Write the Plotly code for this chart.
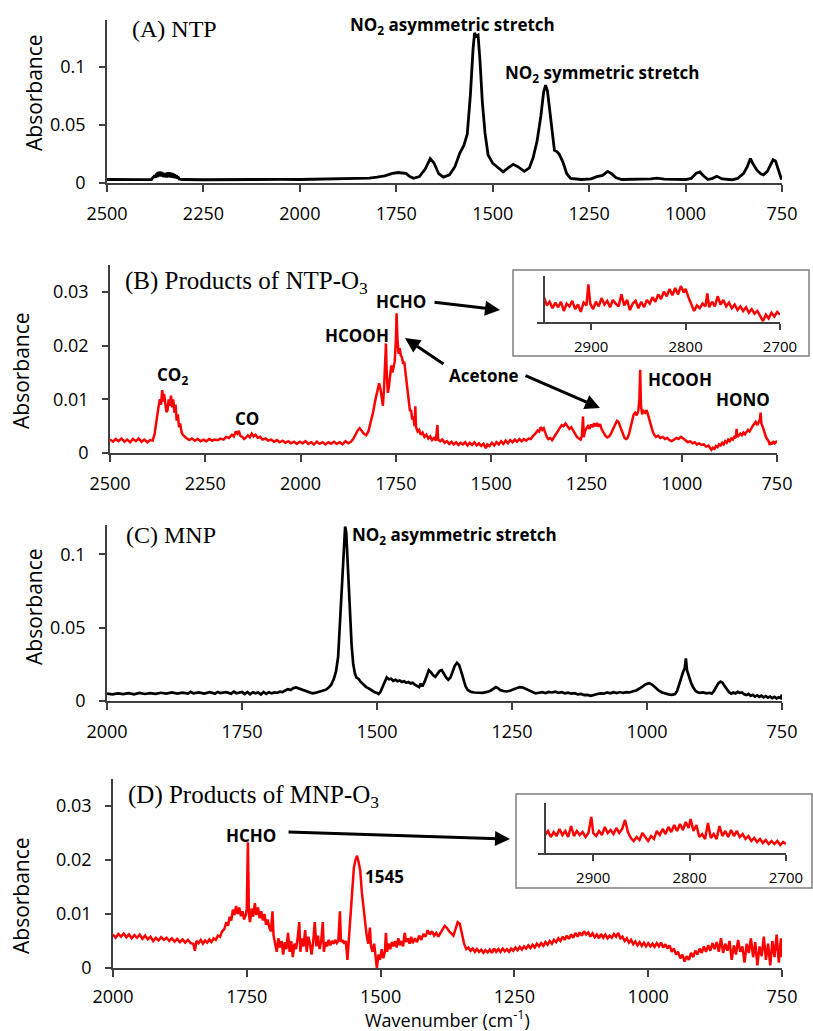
import plotly.graph_objects as go

W, H = 813, 1031

# ---------------- data (wavenumber cm-1, absorbance) ----------------
NTP_SPECTRUM = [
    (2500, .0030), (2470, .0028), (2440, .0030), (2410, .0029), (2385, .0030), (2380, .0045),
    (2376, .0065), (2374, .0045), (2372, .0082), (2370, .0050), (2368, .0095), (2366, .0055),
    (2364, .0098), (2362, .0058), (2360, .0096), (2358, .0055), (2356, .0090), (2354, .0052),
    (2352, .0072), (2350, .0050), (2348, .0085), (2346, .0048), (2344, .0090), (2342, .0050),
    (2340, .0092), (2338, .0050), (2336, .0090), (2334, .0048), (2332, .0086), (2330, .0045),
    (2328, .0082), (2326, .0042), (2324, .0074), (2322, .0040), (2320, .0065), (2318, .0036),
    (2316, .0055), (2313, .0034), (2305, .0030), (2250, .0028), (2200, .0030), (2150, .0029),
    (2100, .0030), (2050, .0031), (2000, .0030), (1950, .0033), (1900, .0034), (1850, .0038),
    (1820, .0042), (1800, .0050), (1780, .0062), (1760, .0082), (1745, .0090), (1735, .0086),
    (1725, .0082), (1715, .0055), (1705, .0040), (1690, .0055), (1675, .0120), (1662, .0210),
    (1652, .0170), (1640, .0080), (1628, .0050), (1612, .0070), (1598, .0140), (1585, .0260),
    (1575, .0320), (1566, .0420), (1558, .0750), (1551, .1150), (1547, .1290), (1543, .1260),
    (1538, .1270), (1533, .1050), (1527, .0700), (1520, .0430), (1512, .0240), (1500, .0170),
    (1489, .0140), (1473, .0095), (1460, .0130), (1447, .0160), (1435, .0140), (1418, .0100),
    (1405, .0130), (1395, .0220), (1385, .0360), (1375, .0580), (1368, .0780), (1363, .0840),
    (1358, .0790), (1352, .0620), (1346, .0400), (1340, .0280), (1334, .0270), (1328, .0250),
    (1318, .0180), (1308, .0080), (1298, .0040), (1270, .0030), (1245, .0035), (1230, .0055),
    (1215, .0065), (1202, .0100), (1192, .0080), (1180, .0045), (1165, .0030), (1120, .0030),
    (1090, .0035), (1074, .0042), (1055, .0033), (1000, .0030), (985, .0040), (972, .0085),
    (963, .0095), (953, .0060), (942, .0030), (930, .0040), (919, .0058), (905, .0035),
    (880, .0028), (865, .0040), (850, .0080), (840, .0140), (832, .0210), (826, .0170),
    (815, .0110), (805, .0080), (798, .0070), (788, .0100), (780, .0160), (773, .0200),
    (767, .0190), (762, .0140), (757, .0080), (751, .0030),
]

NTP_O3_SPECTRUM = [
    (2500, .0025), (2492, .0021), (2485, .0026), (2478, .0022), (2470, .0027), (2462, .0021),
    (2455, .0025), (2447, .0020), (2440, .0026), (2432, .0022), (2425, .0027), (2417, .0021),
    (2410, .0025), (2402, .0020), (2395, .0024), (2388, .0023), (2383, .0035), (2378, .0065),
    (2373, .0085), (2369, .0100), (2366, .0090), (2363, .0117), (2360, .0095), (2358, .0110),
    (2355, .0085), (2352, .0076), (2349, .0080), (2346, .0100), (2343, .0088), (2340, .0107),
    (2337, .0085), (2334, .0100), (2331, .0075), (2328, .0090), (2325, .0060), (2322, .0072),
    (2319, .0048), (2316, .0055), (2312, .0038), (2308, .0033), (2300, .0028), (2292, .0024),
    (2285, .0027), (2277, .0023), (2270, .0026), (2262, .0022), (2255, .0025), (2247, .0022),
    (2240, .0026), (2232, .0023), (2225, .0025), (2217, .0024), (2210, .0027), (2202, .0025),
    (2195, .0030), (2188, .0028), (2180, .0034), (2175, .0031), (2170, .0040), (2166, .0036),
    (2162, .0041), (2158, .0032), (2153, .0030), (2148, .0026), (2143, .0029), (2138, .0033),
    (2133, .0029), (2128, .0036), (2123, .0031), (2118, .0034), (2112, .0028), (2106, .0030),
    (2100, .0025), (2092, .0027), (2085, .0023), (2077, .0025), (2070, .0021), (2062, .0024),
    (2055, .0020), (2047, .0023), (2040, .0019), (2032, .0022), (2025, .0018), (2017, .0021),
    (2010, .0017), (2002, .0021), (1995, .0018), (1987, .0022), (1980, .0017), (1972, .0020),
    (1965, .0016), (1957, .0021), (1950, .0017), (1942, .0020), (1935, .0016), (1927, .0020),
    (1920, .0017), (1912, .0021), (1905, .0017), (1897, .0020), (1890, .0016), (1882, .0022),
    (1875, .0018), (1868, .0021), (1862, .0026), (1856, .0035), (1850, .0042), (1845, .0046),
    (1840, .0041), (1834, .0036), (1828, .0033), (1822, .0040), (1816, .0058), (1810, .0075),
    (1804, .0098), (1798, .0120), (1794, .0130), (1790, .0118), (1787, .0096), (1784, .0088),
    (1781, .0120), (1778, .0165), (1776, .0204), (1774, .0150), (1771, .0112), (1768, .0125),
    (1765, .0148), (1762, .0163), (1759, .0150), (1756, .0158), (1753, .0170), (1750, .0210),
    (1748, .0260), (1746, .0215), (1743, .0185), (1740, .0195), (1737, .0182), (1734, .0178),
    (1731, .0166), (1728, .0170), (1725, .0150), (1722, .0128), (1719, .0120), (1716, .0092),
    (1713, .0078), (1710, .0080), (1707, .0062), (1704, .0068), (1701, .0050), (1699, .0087),
    (1697, .0048), (1693, .0040), (1689, .0043), (1685, .0034), (1680, .0038), (1675, .0030),
    (1670, .0034), (1665, .0027), (1660, .0031), (1655, .0024), (1650, .0028), (1645, .0023),
    (1641, .0052), (1639, .0025), (1634, .0022), (1628, .0025), (1622, .0019), (1616, .0022),
    (1610, .0017), (1604, .0021), (1598, .0016), (1592, .0020), (1586, .0015), (1580, .0019),
    (1574, .0016), (1568, .0020), (1562, .0014), (1556, .0019), (1550, .0015), (1544, .0020),
    (1538, .0014), (1532, .0018), (1526, .0013), (1520, .0017), (1514, .0009), (1510, .0016),
    (1504, .0013), (1498, .0019), (1492, .0014), (1486, .0020), (1480, .0016), (1474, .0022),
    (1468, .0017), (1462, .0023), (1456, .0018), (1450, .0024), (1444, .0020), (1438, .0025),
    (1432, .0021), (1426, .0026), (1420, .0022), (1414, .0026), (1408, .0023), (1402, .0027),
    (1396, .0026), (1390, .0032), (1384, .0036), (1378, .0042), (1374, .0040), (1370, .0048),
    (1366, .0043), (1362, .0046), (1358, .0036), (1354, .0030), (1350, .0026), (1345, .0028),
    (1340, .0024), (1335, .0030), (1330, .0035), (1325, .0042), (1320, .0048), (1315, .0052),
    (1310, .0050), (1305, .0055), (1300, .0050), (1295, .0045), (1290, .0048), (1285, .0042),
    (1280, .0035), (1275, .0030), (1270, .0027), (1265, .0025), (1262, .0032), (1259, .0068),
    (1257, .0030), (1254, .0040), (1250, .0046), (1246, .0050), (1242, .0045), (1238, .0053),
    (1234, .0048), (1230, .0055), (1226, .0050), (1222, .0056), (1218, .0049), (1214, .0054),
    (1210, .0044), (1205, .0038), (1200, .0032), (1195, .0029), (1190, .0031), (1185, .0037),
    (1180, .0045), (1175, .0055), (1170, .0060), (1166, .0058), (1162, .0050), (1158, .0040),
    (1154, .0032), (1150, .0028), (1146, .0026), (1142, .0028), (1138, .0036), (1134, .0050),
    (1130, .0065), (1126, .0072), (1122, .0075), (1118, .0070), (1114, .0078), (1111, .0100),
    (1109, .0155), (1107, .0090), (1104, .0072), (1100, .0078), (1096, .0075), (1092, .0080),
    (1088, .0070), (1084, .0058), (1080, .0048), (1076, .0040), (1072, .0034), (1068, .0030),
    (1062, .0032), (1056, .0028), (1050, .0030), (1044, .0026), (1038, .0028), (1032, .0024),
    (1026, .0022), (1020, .0025), (1014, .0028), (1008, .0026), (1002, .0030), (996, .0027),
    (990, .0024), (984, .0020), (978, .0022), (972, .0018), (966, .0020), (960, .0016),
    (954, .0018), (948, .0015), (942, .0016), (936, .0012), (930, .0014), (926, .0010),
    (922, .0006), (918, .0010), (914, .0008), (910, .0013), (906, .0011), (902, .0016),
    (898, .0014), (894, .0019), (890, .0016), (886, .0022), (882, .0019), (878, .0025),
    (874, .0022), (870, .0027), (866, .0025), (862, .0030), (858, .0028), (856, .0045),
    (854, .0030), (850, .0033), (846, .0036), (842, .0033), (838, .0038), (834, .0035),
    (830, .0040), (826, .0043), (822, .0040), (818, .0046), (814, .0050), (810, .0054),
    (806, .0058), (802, .0052), (798, .0060), (795, .0062), (793, .0075), (791, .0055),
    (788, .0050), (785, .0042), (782, .0035), (779, .0030), (776, .0026), (772, .0022),
    (769, .0015), (766, .0020), (763, .0016), (760, .0022), (756, .0018), (752, .0021),
    (750, .0020),
]

NTP_O3_INSET = [
    (2950, .0027), (2947, .0018), (2944, .0022), (2941, .0015), (2938, .0021), (2935, .0016),
    (2932, .0022), (2929, .0012), (2926, .0020), (2923, .0017), (2920, .0023), (2917, .0014),
    (2914, .0019), (2911, .0011), (2908, .0021), (2905, .0018), (2903, .0041), (2901, .0020),
    (2898, .0014), (2895, .0022), (2892, .0017), (2889, .0026), (2886, .0019), (2883, .0023),
    (2880, .0016), (2877, .0024), (2874, .0020), (2871, .0017), (2868, .0030), (2865, .0018),
    (2862, .0024), (2859, .0013), (2856, .0020), (2853, .0023), (2850, .0015), (2847, .0022),
    (2844, .0016), (2841, .0024), (2838, .0020), (2835, .0027), (2832, .0022), (2829, .0030),
    (2826, .0025), (2823, .0033), (2820, .0028), (2817, .0036), (2814, .0029), (2811, .0037),
    (2808, .0030), (2805, .0039), (2802, .0032), (2800, .0036), (2797, .0027), (2794, .0020),
    (2791, .0012), (2788, .0018), (2785, .0015), (2782, .0020), (2779, .0017), (2777, .0031),
    (2775, .0016), (2772, .0022), (2769, .0017), (2766, .0028), (2763, .0019), (2760, .0024),
    (2757, .0017), (2754, .0021), (2751, .0015), (2748, .0019), (2745, .0013), (2742, .0017),
    (2739, .0012), (2736, .0016), (2733, .0010), (2730, .0014), (2727, .0009), (2724, .0012),
    (2721, .0007), (2718, .0001), (2715, .0008), (2712, .0004), (2709, .0010), (2706, .0006),
    (2703, .0011), (2700, .0008),
]

MNP_SPECTRUM = [
    (2000, .0050), (1990, .0045), (1980, .0052), (1970, .0047), (1960, .0053), (1950, .0046),
    (1940, .0055), (1930, .0048), (1920, .0054), (1910, .0049), (1900, .0056), (1890, .0050),
    (1880, .0058), (1870, .0051), (1860, .0057), (1850, .0050), (1845, .0062), (1840, .0052),
    (1830, .0058), (1820, .0051), (1810, .0060), (1800, .0050), (1795, .0062), (1790, .0054),
    (1780, .0060), (1770, .0050), (1765, .0064), (1760, .0053), (1750, .0061), (1745, .0048),
    (1740, .0062), (1735, .0046), (1730, .0060), (1725, .0052), (1720, .0058), (1715, .0045),
    (1710, .0062), (1705, .0048), (1700, .0060), (1695, .0052), (1690, .0058), (1685, .0055),
    (1680, .0063), (1675, .0060), (1670, .0072), (1665, .0080), (1660, .0075), (1655, .0088),
    (1650, .0092), (1645, .0085), (1640, .0078), (1635, .0070), (1630, .0065), (1625, .0058),
    (1620, .0052), (1615, .0055), (1610, .0060), (1605, .0062), (1600, .0068), (1595, .0076),
    (1590, .0090), (1585, .0110), (1580, .0150), (1576, .0200), (1572, .0300), (1569, .0520),
    (1566, .0700), (1563, .0900), (1561, .1080), (1559, .1190), (1557, .1150), (1555, .0980),
    (1553, .0780), (1550, .0560), (1547, .0380), (1544, .0250), (1541, .0190), (1538, .0160),
    (1534, .0150), (1530, .0130), (1525, .0110), (1520, .0095), (1515, .0085), (1510, .0072),
    (1505, .0062), (1500, .0055), (1497, .0048), (1494, .0060), (1490, .0090), (1486, .0130),
    (1482, .0160), (1478, .0148), (1474, .0152), (1470, .0138), (1466, .0145), (1462, .0135),
    (1458, .0140), (1454, .0130), (1450, .0135), (1446, .0125), (1442, .0130), (1438, .0120),
    (1434, .0125), (1430, .0112), (1426, .0105), (1422, .0095), (1419, .0118), (1416, .0100),
    (1412, .0130), (1408, .0170), (1404, .0210), (1400, .0195), (1396, .0175), (1392, .0165),
    (1388, .0185), (1384, .0205), (1380, .0210), (1376, .0185), (1372, .0160), (1368, .0145),
    (1364, .0160), (1360, .0200), (1356, .0240), (1352, .0260), (1348, .0245), (1344, .0200),
    (1340, .0150), (1336, .0100), (1332, .0075), (1326, .0062), (1320, .0058), (1312, .0055),
    (1304, .0056), (1296, .0062), (1290, .0070), (1284, .0085), (1280, .0095), (1276, .0088),
    (1272, .0075), (1266, .0068), (1260, .0065), (1254, .0070), (1248, .0078), (1242, .0088),
    (1236, .0095), (1230, .0092), (1224, .0082), (1218, .0068), (1212, .0058), (1206, .0052),
    (1200, .0056), (1194, .0060), (1188, .0054), (1182, .0062), (1176, .0058), (1170, .0064),
    (1164, .0056), (1158, .0060), (1152, .0052), (1146, .0057), (1140, .0050), (1134, .0053),
    (1128, .0045), (1122, .0048), (1116, .0040), (1110, .0042), (1104, .0035), (1098, .0044),
    (1092, .0048), (1086, .0052), (1080, .0050), (1074, .0058), (1068, .0052), (1062, .0060),
    (1056, .0054), (1050, .0061), (1044, .0055), (1038, .0060), (1032, .0058), (1026, .0066),
    (1020, .0072), (1014, .0085), (1008, .0100), (1002, .0115), (996, .0122), (990, .0110),
    (984, .0090), (978, .0070), (972, .0058), (966, .0050), (960, .0045), (954, .0042),
    (948, .0048), (944, .0070), (940, .0120), (936, .0180), (933, .0200), (930, .0225),
    (928, .0290), (926, .0210), (922, .0160), (918, .0120), (914, .0090), (910, .0068),
    (906, .0060), (902, .0055), (896, .0058), (890, .0052), (884, .0056), (880, .0050),
    (876, .0068), (872, .0095), (868, .0120), (864, .0132), (860, .0125), (856, .0100),
    (852, .0075), (848, .0060), (844, .0050), (840, .0058), (836, .0052), (832, .0062),
    (828, .0055), (824, .0058), (820, .0045), (816, .0040), (812, .0048), (808, .0035),
    (804, .0042), (800, .0030), (796, .0038), (792, .0028), (788, .0036), (784, .0025),
    (780, .0033), (776, .0022), (772, .0030), (768, .0020), (764, .0028), (760, .0018),
    (756, .0026), (752, .0020), (750, .0045),
]

MNP_O3_SPECTRUM = [
    (2000, .0062), (1995, .0056), (1990, .0063), (1985, .0058), (1980, .0064), (1975, .0057),
    (1970, .0062), (1965, .0055), (1960, .0061), (1955, .0056), (1950, .0062), (1945, .0054),
    (1940, .0060), (1935, .0053), (1930, .0058), (1925, .0050), (1920, .0056), (1915, .0051),
    (1910, .0057), (1905, .0052), (1900, .0056), (1895, .0050), (1890, .0055), (1885, .0049),
    (1880, .0054), (1875, .0048), (1870, .0053), (1865, .0047), (1860, .0052), (1855, .0046),
    (1850, .0045), (1847, .0032), (1844, .0050), (1840, .0046), (1836, .0052), (1832, .0045),
    (1828, .0051), (1824, .0047), (1820, .0053), (1816, .0048), (1812, .0055), (1808, .0052),
    (1804, .0060), (1800, .0058), (1796, .0068), (1792, .0072), (1788, .0085), (1785, .0078),
    (1782, .0095), (1779, .0088), (1776, .0108), (1773, .0098), (1770, .0115), (1767, .0100),
    (1764, .0112), (1761, .0096), (1758, .0105), (1755, .0090), (1752, .0098), (1750, .0110),
    (1748, .0233), (1746, .0100), (1744, .0085), (1741, .0110), (1738, .0095), (1735, .0120),
    (1732, .0098), (1729, .0112), (1726, .0092), (1723, .0105), (1720, .0088), (1717, .0100),
    (1714, .0080), (1711, .0090), (1708, .0075), (1705, .0068), (1702, .0105), (1700, .0060),
    (1697, .0045), (1694, .0030), (1691, .0055), (1688, .0038), (1685, .0050), (1682, .0025),
    (1679, .0048), (1676, .0035), (1673, .0065), (1670, .0030), (1667, .0050), (1664, .0020),
    (1661, .0045), (1658, .0035), (1655, .0055), (1652, .0085), (1650, .0030), (1647, .0055),
    (1644, .0040), (1641, .0070), (1638, .0030), (1635, .0058), (1632, .0045), (1629, .0025),
    (1626, .0048), (1623, .0085), (1620, .0040), (1617, .0060), (1614, .0035), (1611, .0050),
    (1608, .0085), (1606, .0030), (1603, .0048), (1600, .0040), (1597, .0052), (1594, .0042),
    (1591, .0050), (1588, .0045), (1585, .0052), (1582, .0046), (1579, .0050), (1576, .0105),
    (1574, .0048), (1571, .0052), (1568, .0045), (1565, .0050), (1562, .0015), (1559, .0060),
    (1556, .0110), (1553, .0150), (1550, .0185), (1547, .0200), (1544, .0208), (1541, .0196),
    (1538, .0180), (1535, .0140), (1532, .0110), (1529, .0080), (1526, .0060), (1523, .0045),
    (1520, .0075), (1518, .0040), (1515, .0030), (1512, .0045), (1509, .0010), (1507, .0000),
    (1504, .0025), (1501, .0015), (1498, .0035), (1495, .0018), (1492, .0030), (1490, .0065),
    (1488, .0030), (1485, .0045), (1482, .0035), (1479, .0048), (1476, .0040), (1473, .0050),
    (1470, .0038), (1467, .0055), (1464, .0042), (1461, .0050), (1458, .0040), (1455, .0065),
    (1452, .0048), (1449, .0055), (1446, .0045), (1443, .0058), (1440, .0046), (1436, .0055),
    (1432, .0048), (1428, .0060), (1424, .0052), (1420, .0063), (1416, .0058), (1412, .0070),
    (1408, .0062), (1404, .0068), (1400, .0060), (1396, .0065), (1392, .0058), (1388, .0066),
    (1384, .0072), (1380, .0078), (1376, .0074), (1372, .0068), (1368, .0064), (1364, .0060),
    (1360, .0072), (1356, .0085), (1352, .0082), (1348, .0065), (1344, .0045), (1340, .0035),
    (1336, .0038), (1332, .0032), (1328, .0036), (1324, .0030), (1320, .0035), (1316, .0030),
    (1312, .0034), (1308, .0028), (1304, .0033), (1300, .0029), (1296, .0034), (1292, .0028),
    (1288, .0036), (1284, .0030), (1280, .0035), (1276, .0030), (1272, .0036), (1268, .0031),
    (1264, .0035), (1260, .0030), (1256, .0036), (1252, .0032), (1248, .0038), (1244, .0033),
    (1240, .0039), (1236, .0034), (1232, .0040), (1228, .0036), (1224, .0042), (1220, .0037),
    (1216, .0043), (1212, .0038), (1208, .0045), (1204, .0040), (1200, .0046), (1196, .0041),
    (1192, .0048), (1188, .0043), (1184, .0050), (1180, .0045), (1176, .0052), (1172, .0048),
    (1168, .0055), (1164, .0050), (1160, .0058), (1156, .0052), (1152, .0060), (1148, .0054),
    (1144, .0062), (1140, .0056), (1136, .0065), (1132, .0058), (1128, .0066), (1124, .0060),
    (1120, .0068), (1116, .0062), (1112, .0066), (1108, .0058), (1104, .0064), (1100, .0057),
    (1096, .0062), (1092, .0055), (1088, .0063), (1084, .0056), (1080, .0062), (1076, .0055),
    (1072, .0060), (1068, .0056), (1064, .0063), (1060, .0058), (1056, .0065), (1052, .0055),
    (1048, .0058), (1044, .0050), (1040, .0055), (1036, .0047), (1032, .0052), (1028, .0044),
    (1024, .0049), (1020, .0042), (1016, .0048), (1012, .0041), (1008, .0047), (1004, .0040),
    (1000, .0046), (996, .0040), (992, .0045), (988, .0039), (984, .0046), (980, .0040),
    (976, .0047), (972, .0038), (968, .0044), (964, .0036), (960, .0042), (956, .0030),
    (952, .0036), (948, .0025), (944, .0030), (940, .0018), (936, .0025), (932, .0012),
    (928, .0022), (924, .0015), (920, .0028), (916, .0020), (912, .0032), (908, .0025),
    (904, .0036), (900, .0028), (896, .0040), (892, .0030), (888, .0042), (884, .0032),
    (880, .0046), (876, .0035), (872, .0048), (868, .0030), (864, .0055), (860, .0028),
    (856, .0045), (852, .0032), (848, .0050), (844, .0015), (840, .0042), (836, .0025),
    (832, .0052), (828, .0030), (824, .0040), (820, .0010), (816, .0045), (812, .0028),
    (808, .0055), (804, .0020), (800, .0048), (796, .0005), (792, .0040), (788, .0022),
    (784, .0058), (780, .0015), (776, .0045), (772, .0005), (768, .0050), (764, .0020),
    (760, .0062), (756, .0010), (752, .0055), (750, .0020),
]

MNP_O3_INSET = [
    (2950, .0018), (2947, .0022), (2944, .0016), (2941, .0021), (2938, .0017), (2935, .0024),
    (2932, .0018), (2929, .0022), (2926, .0016), (2923, .0027), (2920, .0017), (2917, .0022),
    (2914, .0018), (2911, .0021), (2908, .0016), (2905, .0020), (2902, .0036), (2900, .0020),
    (2897, .0017), (2894, .0022), (2891, .0018), (2888, .0026), (2885, .0020), (2882, .0023),
    (2879, .0019), (2876, .0025), (2873, .0020), (2870, .0024), (2867, .0033), (2864, .0021),
    (2861, .0015), (2858, .0012), (2855, .0016), (2852, .0013), (2849, .0020), (2846, .0016),
    (2843, .0012), (2840, .0017), (2837, .0014), (2834, .0022), (2831, .0018), (2828, .0024),
    (2825, .0019), (2822, .0026), (2819, .0021), (2816, .0028), (2813, .0022), (2810, .0029),
    (2807, .0023), (2804, .0031), (2801, .0025), (2799, .0034), (2796, .0022), (2793, .0028),
    (2790, .0016), (2787, .0019), (2784, .0014), (2781, .0030), (2778, .0015), (2775, .0019),
    (2772, .0014), (2769, .0027), (2766, .0017), (2763, .0022), (2760, .0016), (2757, .0023),
    (2754, .0017), (2751, .0022), (2748, .0016), (2745, .0019), (2742, .0014), (2739, .0017),
    (2736, .0012), (2733, .0015), (2730, .0011), (2727, .0014), (2724, .0010), (2721, .0013),
    (2718, .0009), (2715, .0012), (2712, .0009), (2709, .0012), (2706, .0008), (2703, .0011),
    (2700, .0009),
]

X_TICKS_WIDE = [2500, 2250, 2000, 1750, 1500, 1250, 1000, 750]
X_TICKS_NARROW = [2000, 1750, 1500, 1250, 1000, 750]
Y_TICKS_BIG = [0, 0.05, 0.1]
Y_TICKS_BIG_TEXT = ["0", "0.05", "0.1"]
Y_TICKS_SMALL = [0, 0.01, 0.02, 0.03]
Y_TICKS_SMALL_TEXT = ["0", "0.01", "0.02", "0.03"]
INSET_TICKS = [2900, 2800, 2700]

# ---------------- helpers ----------------
def px(p):
    return p / W

def py(p):
    return 1 - p / H

SANS = "Open Sans"
SERIF = "Liberation Serif"
AXCOL = "#404040"
RED = "#ff0000"

fig = go.Figure()

def add_line(data, color, width, idx):
    xs = [d[0] for d in data]
    ys = [d[1] for d in data]
    suffix = "" if idx == 1 else str(idx)
    fig.add_trace(go.Scatter(x=xs, y=ys, mode="lines", line=dict(color=color, width=width),
                             xaxis="x" + suffix, yaxis="y" + suffix, showlegend=False,
                             hoverinfo="skip"))

add_line(NTP_SPECTRUM, "black", 2.8, 1)
add_line(NTP_O3_SPECTRUM, RED, 2.5, 2)
add_line(MNP_SPECTRUM, "black", 2.7, 3)
add_line(MNP_O3_SPECTRUM, RED, 2.5, 4)
add_line(NTP_O3_INSET, RED, 2.5, 5)
add_line(MNP_O3_INSET, RED, 2.5, 6)

def xaxis(x0, x1, rng, ticks, anchor, standoff=7):
    return dict(domain=[px(x0), px(x1)], range=rng, anchor=anchor, automargin=False,
                tickvals=ticks, ticktext=[str(t) for t in ticks],
                showline=True, linecolor=AXCOL, linewidth=1.5,
                ticks="outside", ticklen=7, tickwidth=1.5, tickcolor=AXCOL,
                showgrid=False, zeroline=False, ticklabelstandoff=standoff,
                tickfont=dict(family=SANS, size=18, color="black"))

def yaxis(ytop, ybot, rng, ticks, texts, anchor):
    return dict(domain=[py(ybot), py(ytop)], range=rng, anchor=anchor, automargin=False,
                tickvals=ticks, ticktext=texts,
                showline=True, linecolor=AXCOL, linewidth=1.5,
                ticks="outside", ticklen=6, tickwidth=1.5, tickcolor=AXCOL,
                showgrid=False, zeroline=False, ticklabelstandoff=10,
                tickfont=dict(family=SANS, size=18, color="black"))

layout = dict(
    width=W, height=H, autosize=False, margin=dict(l=0, r=0, t=0, b=0, pad=0, autoexpand=False),
    paper_bgcolor="white", plot_bgcolor="white", showlegend=False,
    xaxis=xaxis(107, 782, [2500, 750], X_TICKS_WIDE, "y"),
    yaxis=yaxis(20, 183, [0, 0.14], Y_TICKS_BIG, Y_TICKS_BIG_TEXT, "x"),
    xaxis2=xaxis(110, 777, [2500, 750], X_TICKS_WIDE, "y2"),
    yaxis2=yaxis(265, 453, [0, 0.035], Y_TICKS_SMALL, Y_TICKS_SMALL_TEXT, "x2"),
    xaxis3=xaxis(107, 782, [2000, 750], X_TICKS_NARROW, "y3"),
    yaxis3=yaxis(525, 701, [0, 0.12], Y_TICKS_BIG, Y_TICKS_BIG_TEXT, "x3"),
    xaxis4=xaxis(113, 782, [2000, 750], X_TICKS_NARROW, "y4", standoff=5),
    yaxis4=yaxis(779, 968, [0, 0.035], Y_TICKS_SMALL, Y_TICKS_SMALL_TEXT, "x4"),
)

def inset_x(x0, x1, rng, anchor):
    return dict(domain=[px(x0), px(x1)], range=rng, anchor=anchor, automargin=False,
                tickvals=INSET_TICKS, ticktext=[str(t) for t in INSET_TICKS],
                showline=True, linecolor=AXCOL, linewidth=1.5,
                ticks="outside", ticklen=6, tickwidth=1.5, tickcolor=AXCOL,
                showgrid=False, zeroline=False, ticklabelstandoff=4,
                tickfont=dict(family=SANS, size=15, color="black"))

def inset_y(ytop, ybot, xpos):
    return dict(domain=[py(ybot), py(ytop)], range=[0, 0.005], anchor="free", automargin=False,
                position=px(xpos), showline=True, linecolor=AXCOL, linewidth=1.5,
                showticklabels=False, ticks="", showgrid=False, zeroline=False)

layout["xaxis5"] = inset_x(537, 780, [2957.4, 2700], "y5")
layout["yaxis5"] = inset_y(276, 322, 544)
layout["xaxis6"] = inset_x(538, 786, [2957.3, 2700], "y6")
layout["yaxis6"] = inset_y(803, 853, 545)

fig.update_layout(**layout)

# inset boxes
shapes = [
    dict(type="rect", xref="paper", yref="paper", x0=px(513), x1=px(809), y0=py(356), y1=py(270),
         line=dict(color="#7f7f7f", width=1.5), fillcolor="rgba(0,0,0,0)", layer="below"),
    dict(type="rect", xref="paper", yref="paper", x0=px(516), x1=px(812), y0=py(888), y1=py(794),
         line=dict(color="#7f7f7f", width=1.5), fillcolor="rgba(0,0,0,0)", layer="below"),
]
fig.update_layout(shapes=shapes)

ann = []

def text(x, y, s, size=17, family=SANS, bold=True, xanchor="center", angle=0):
    ann.append(dict(x=px(x), y=py(y), xref="paper", yref="paper", text=("<b>%s</b>" % s) if bold else s,
                    showarrow=False, xanchor=xanchor, yanchor="middle", textangle=angle,
                    font=dict(family=family, size=size, color="black")))

def arrow(tx, ty, hx, hy):
    ann.append(dict(x=px(hx), y=py(hy), xref="paper", yref="paper", ax=tx - hx, ay=ty - hy,
                    axref="pixel", ayref="pixel", text="", showarrow=True,
                    arrowhead=2, arrowsize=1, arrowwidth=3, arrowcolor="black"))

# panel titles
text(130, 29, "(A) NTP", size=24, family=SERIF, bold=False, xanchor="left")
text(123, 282, "(B) Products of NTP-O<sub>3</sub>", size=25, family=SERIF, bold=False, xanchor="left")
text(124, 535, "(C) MNP", size=24, family=SERIF, bold=False, xanchor="left")
text(126, 796, "(D) Products of MNP-O<sub>3</sub>", size=25, family=SERIF, bold=False, xanchor="left")

# y titles
text(34, 93, "Absorbance", size=21, bold=False, angle=-90)
text(21, 371, "Absorbance", size=21, bold=False, angle=-90)
text(34, 607, "Absorbance", size=21, bold=False, angle=-90)
text(21, 896, "Absorbance", size=21, bold=False, angle=-90)

# x title
text(447, 1019, "Wavenumber (cm<sup>-1</sup>)", size=18, bold=False)

# labels panel A
text(452, 25, "NO<sub>2</sub> asymmetric stretch")
text(602, 73, "NO<sub>2</sub> symmetric stretch")
# panel B
text(172, 376, "CO<sub>2</sub>")
text(247, 418, "CO")
text(401, 301, "HCHO")
text(357, 335, "HCOOH")
text(484, 376, "Acetone")
text(680, 379, "HCOOH")
text(743, 400, "HONO")
arrow(433, 302, 500, 310)
arrow(445, 365, 405, 338)
arrow(524, 375, 600, 408)
# panel C
text(454, 535, "NO<sub>2</sub> asymmetric stretch")
# panel D
text(251, 835, "HCHO")
text(384, 876, "1545")
arrow(287, 832, 510, 839)

fig.update_layout(annotations=ann)

fig.write_html("out.html")
